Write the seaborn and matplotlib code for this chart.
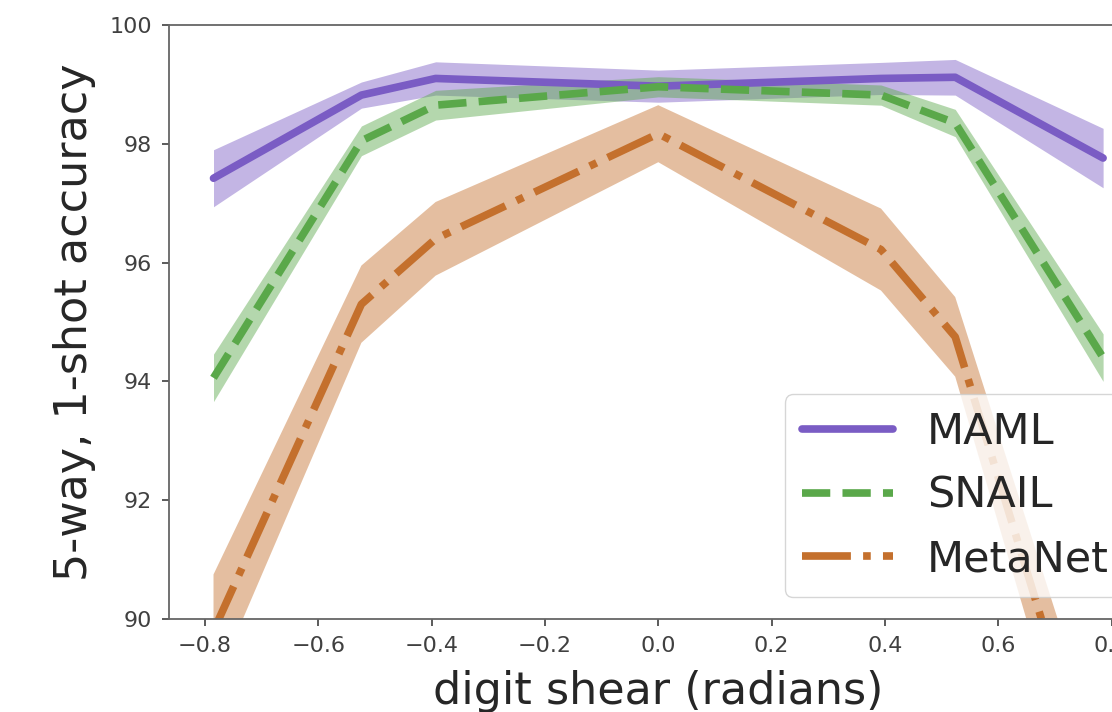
"""Accuracy vs. digit shear for MAML, SNAIL and MetaNet (mean +/- band)."""
import matplotlib
matplotlib.use("Agg")
import matplotlib.pyplot as plt
import pandas as pd
import seaborn as sns

SHEAR = [-0.785, -0.524, -0.393, 0.0, 0.393, 0.524, 0.785]
MODELS = ["MAML", "SNAIL", "MetaNet"]
MAML_MEAN = [97.42, 98.82, 99.10, 98.97, 99.10, 99.12, 97.76]
MAML_ERR = [0.48, 0.22, 0.28, 0.27, 0.27, 0.30, 0.50]
SNAIL_MEAN = [94.06, 98.05, 98.65, 98.96, 98.82, 98.35, 94.40]
SNAIL_ERR = [0.40, 0.25, 0.25, 0.17, 0.17, 0.23, 0.40]
METANET_MEAN = [89.80, 95.30, 96.40, 98.17, 96.22, 94.75, 86.60]
METANET_ERR = [0.95, 0.65, 0.62, 0.48, 0.69, 0.67, 1.00]

COLORS = {"MAML": "#7a5cc4", "SNAIL": "#5aa84a", "MetaNet": "#c4702d"}
LINESTYLES = {"MAML": "-", "SNAIL": "--", "MetaNet": "-."}


def build_frame():
    means = {"MAML": MAML_MEAN, "SNAIL": SNAIL_MEAN, "MetaNet": METANET_MEAN}
    errs = {"MAML": MAML_ERR, "SNAIL": SNAIL_ERR, "MetaNet": METANET_ERR}
    rows = []
    for model in MODELS:
        for x, m, e in zip(SHEAR, means[model], errs[model]):
            rows.append({"model": model, "shear": x, "acc": m, "lo": m - e, "hi": m + e})
    return pd.DataFrame(rows)


def main():
    sns.set_style("ticks")
    plt.rcParams["font.family"] = ["DejaVu Sans"]
    df = build_frame()

    fig = plt.figure(figsize=(11.12, 7.12), dpi=100)
    ax = fig.add_axes([0.152, 0.1306, 0.880, 0.8343])

    for model in MODELS:
        sub = df[df["model"] == model]
        ax.fill_between(sub["shear"], sub["lo"], sub["hi"], color=COLORS[model], alpha=0.45, linewidth=0)
        sns.lineplot(data=sub, x="shear", y="acc", ax=ax, color=COLORS[model], linewidth=5.5,
                     linestyle=LINESTYLES[model], label=model, legend=False)

    ax.set_ylim(90, 100)
    ax.set_yticks([90, 92, 94, 96, 98, 100])
    ax.set_xticks([-0.8, -0.6, -0.4, -0.2, 0.0, 0.2, 0.4, 0.6, 0.8])
    ax.tick_params(labelsize=16, colors="0.25", length=5, width=1.2, pad=7)
    for spine in ax.spines.values():
        spine.set_color("0.4")
        spine.set_linewidth(1.3)

    ax.set_xlabel("digit shear (radians)", fontsize=32, labelpad=10)
    ax.set_ylabel("5-way, 1-shot accuracy", fontsize=32, labelpad=10)

    handles, labels = ax.get_legend_handles_labels()
    ax.legend(handles, labels, loc="lower right", fontsize=31, labelspacing=0.5,
              handlelength=2.1, borderpad=0.4)

    fig.savefig("out.png", dpi=100)


if __name__ == "__main__":
    main()
